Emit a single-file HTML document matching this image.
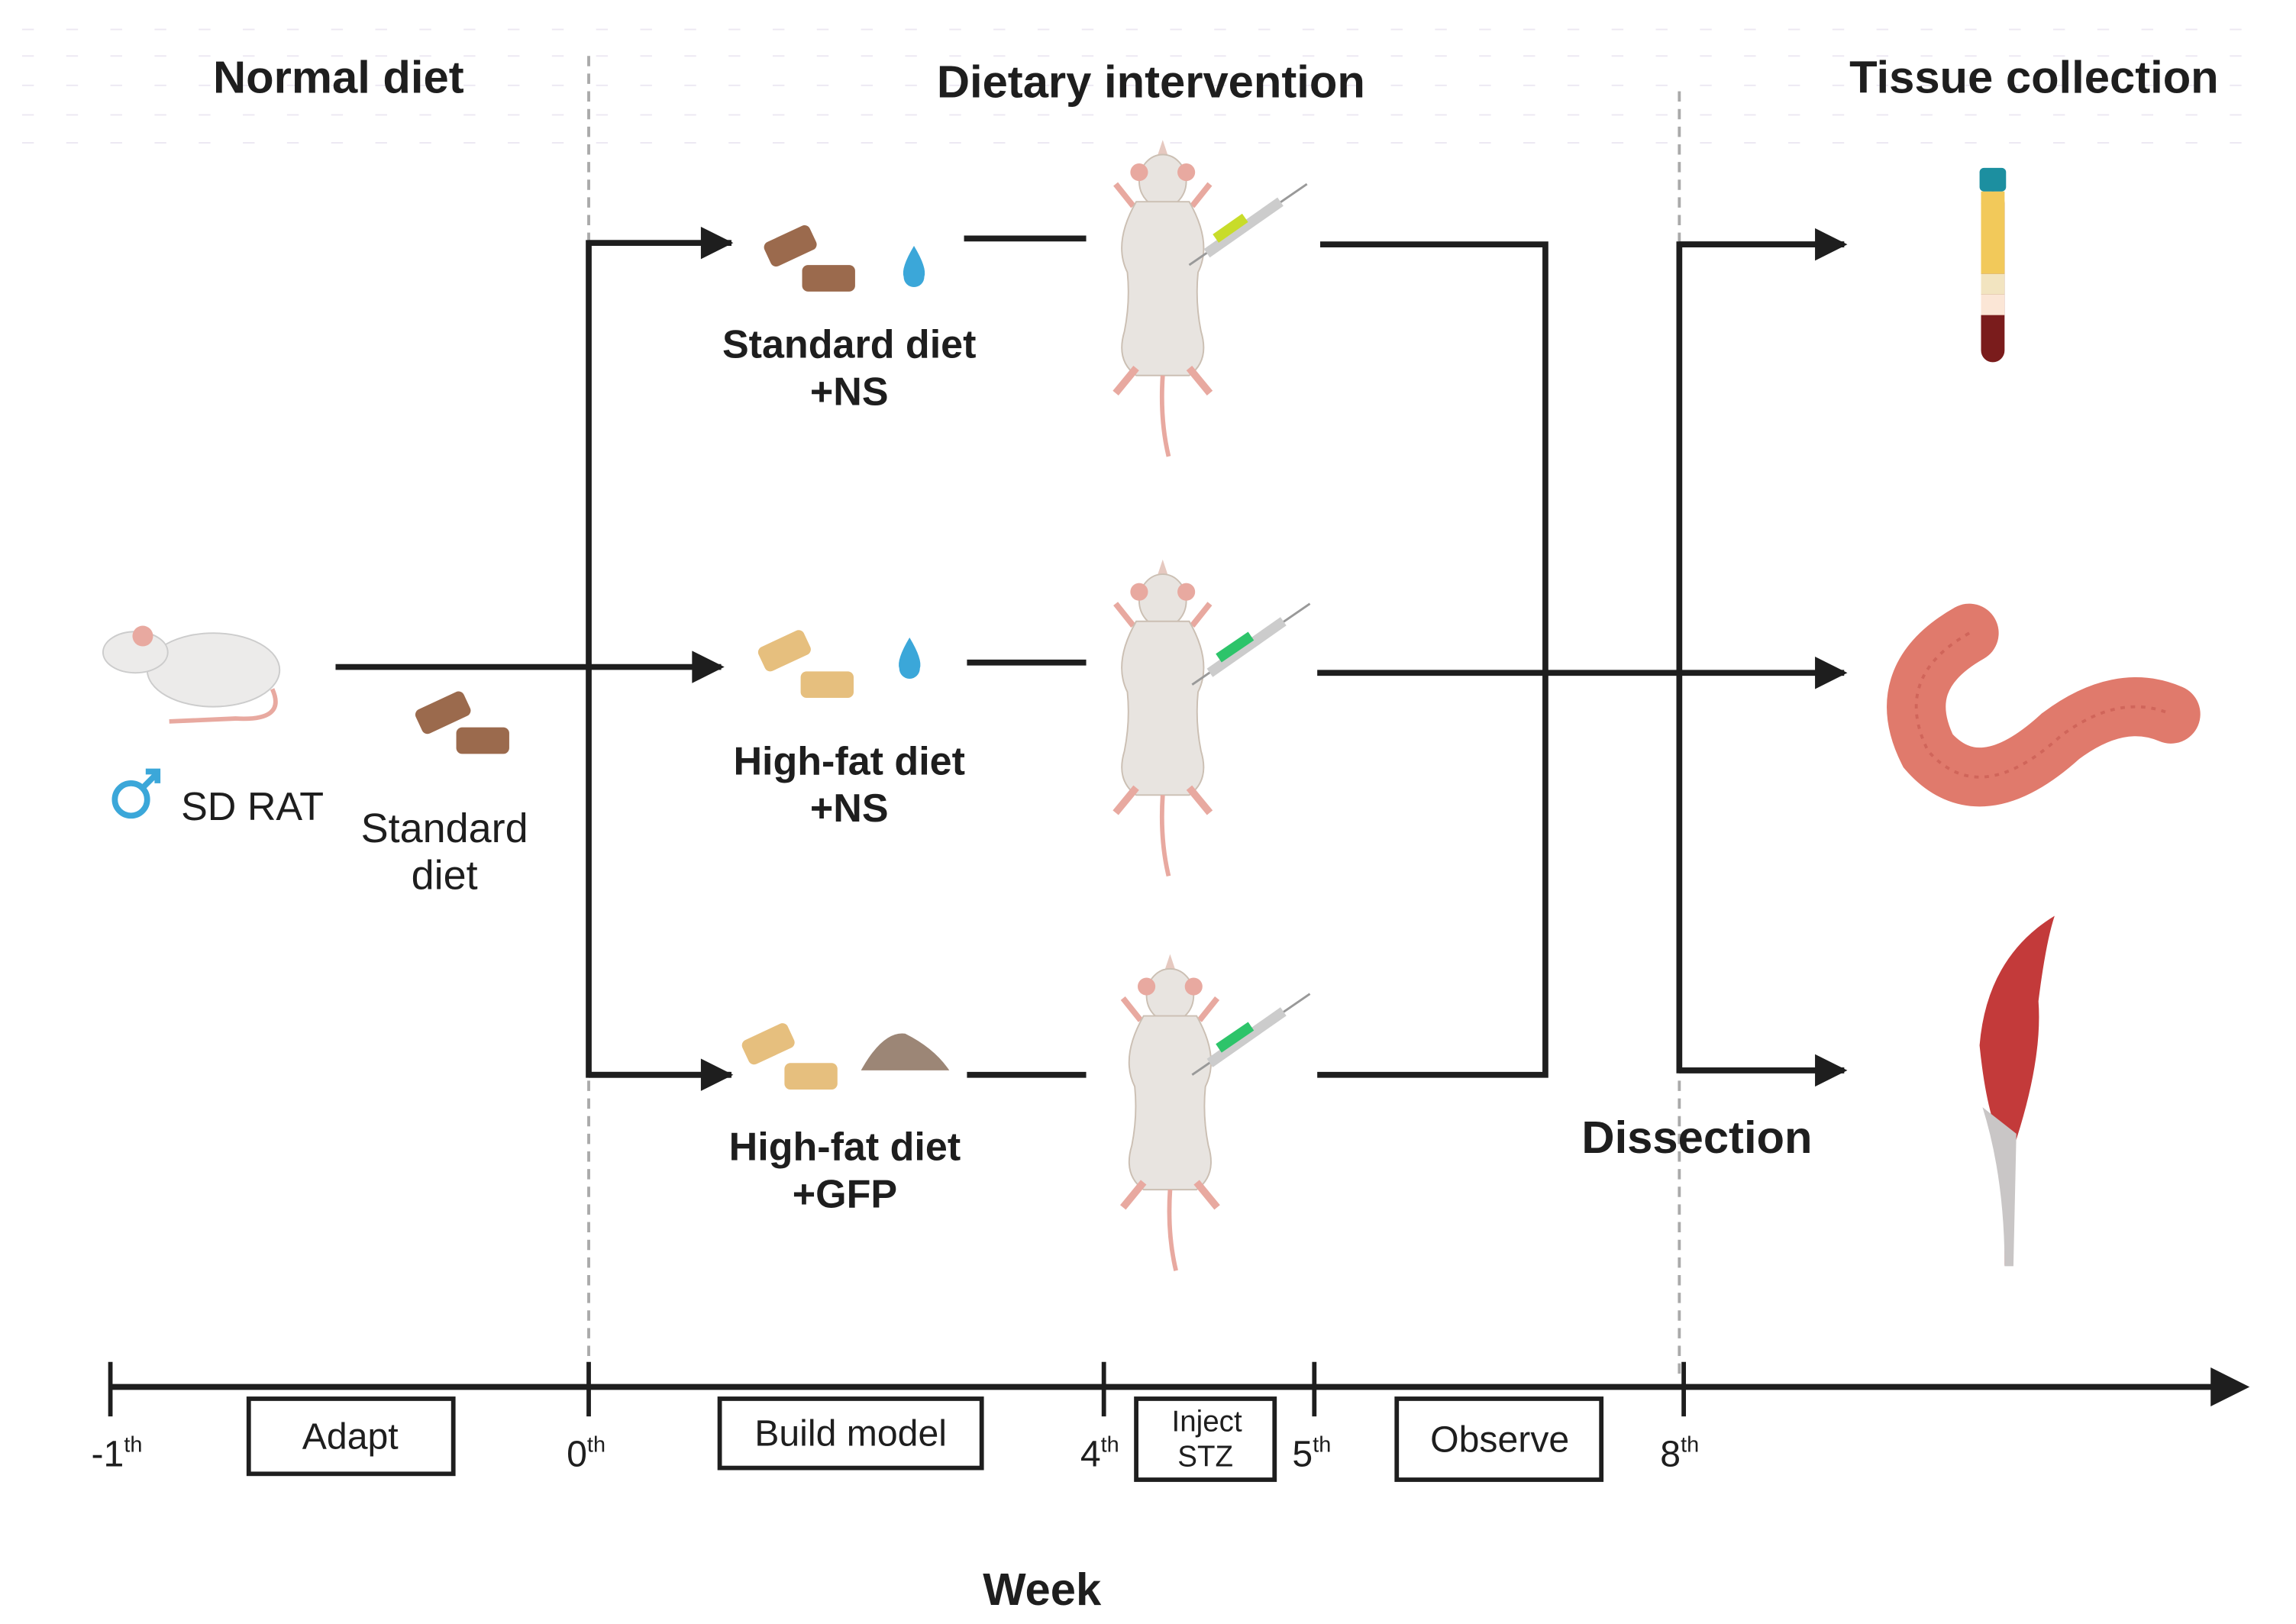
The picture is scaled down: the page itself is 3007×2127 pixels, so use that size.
<!DOCTYPE html>
<html><head><meta charset="utf-8"><style>
html,body{margin:0;padding:0;background:#fff;}
svg{display:block;}
text{font-family:"Liberation Sans",sans-serif;fill:#1e1e1e;}
.b{font-weight:bold;}
</style></head><body>
<svg width="3007" height="2127" viewBox="0 0 1560 1103" preserveAspectRatio="none" xmlns="http://www.w3.org/2000/svg">
<defs>
<marker id="ah" viewBox="0 0 10 10" refX="9" refY="5" markerWidth="6" markerHeight="5.5" markerUnits="strokeWidth" orient="auto"><path d="M0,0 L10,5 L0,10 z" fill="#1e1e1e"/></marker>
<g id="rat">
 <path d="M0,-100 L5,-85 L-5,-85 z" fill="#e6c9c0"/>
 <ellipse cx="0" cy="-72" rx="16" ry="18" fill="#e8e4e0" stroke="#cbbfb3"/>
 <circle cx="-16" cy="-78" r="6" fill="#e8a9a0"/><circle cx="16" cy="-78" r="6" fill="#e8a9a0"/>
 <path d="M-20,-55 L-32,-70 M20,-55 L32,-70" stroke="#e8a9a0" stroke-width="4"/>
 <path d="M-18,-58 Q-34,-30 -24,-10 Q-22,10 -26,30 Q-32,50 -18,60 L18,60 Q32,50 26,30 Q22,10 24,-10 Q34,-30 18,-58 Z" fill="#e8e4e0" stroke="#cbbfb3"/>
 <path d="M-18,55 L-32,72 M18,55 L32,72" stroke="#e8a9a0" stroke-width="5"/>
 <path d="M0,60 Q-2,90 4,115" stroke="#e8a9a0" stroke-width="3" fill="none"/>
</g>
<g id="syr">
 <line x1="0" y1="0" x2="80" y2="-55" stroke="#999" stroke-width="1.5"/>
 <line x1="12" y1="-8" x2="62" y2="-43" stroke="#ccc" stroke-width="7"/>
</g>
</defs>

<g stroke="#ece8f2" stroke-width="1" stroke-dasharray="8 22">
<line x1="15" y1="20" x2="1545" y2="20"/><line x1="15" y1="38" x2="1545" y2="38"/>
<line x1="15" y1="58" x2="1545" y2="58"/><line x1="15" y1="78" x2="1545" y2="78"/><line x1="15" y1="97" x2="1545" y2="97"/>
</g>

<text x="230" y="63" font-size="31" class="b" text-anchor="middle">Normal diet</text>
<text x="782" y="66" font-size="31" class="b" text-anchor="middle">Dietary intervention</text>
<text x="1382" y="63" font-size="31" class="b" text-anchor="middle">Tissue collection</text>

<g stroke="#aaa" stroke-width="2" stroke-dasharray="7 5">
<line x1="400" y1="38" x2="400" y2="935"/><line x1="1141" y1="62" x2="1141" y2="935"/>
</g>

<g>
 <ellipse cx="145" cy="455" rx="45" ry="25" fill="#ecebea" stroke="#ccc"/>
 <ellipse cx="92" cy="443" rx="22" ry="14" fill="#ecebea" stroke="#ccc"/>
 <circle cx="97" cy="432" r="7" fill="#e8a9a0"/>
 <path d="M185,468 Q195,490 160,488 L115,490" stroke="#e8a9a0" stroke-width="3" fill="none"/>
</g>
<circle cx="89" cy="543" r="11" fill="none" stroke="#3ba7d9" stroke-width="4"/>
<path d="M97,535 L107,525 M99,524 L107,524 L107,532" stroke="#3ba7d9" stroke-width="4" fill="none"/>
<text x="123" y="557" font-size="27">SD RAT</text>
<text x="302" y="572" font-size="28" text-anchor="middle">Standard</text>
<text x="302" y="604" font-size="28" text-anchor="middle">diet</text>
<g fill="#9b6a4d"><rect x="283" y="475" width="36" height="18" rx="4" transform="rotate(-25 301 484)"/><rect x="310" y="494" width="36" height="18" rx="4"/></g>

<g stroke="#1e1e1e" stroke-width="4" fill="none">
<line x1="228" y1="453" x2="490" y2="453" marker-end="url(#ah)"/>
<polyline points="497,165 400,165 400,730 497,730"/>
<line x1="400" y1="165" x2="496" y2="165" marker-end="url(#ah)"/>
<line x1="400" y1="730" x2="496" y2="730" marker-end="url(#ah)"/>
<line x1="655" y1="162" x2="738" y2="162"/>
<line x1="657" y1="450" x2="738" y2="450"/>
<line x1="657" y1="730" x2="738" y2="730"/>
<polyline points="897,166 1050,166 1050,730 895,730"/>
<line x1="895" y1="457" x2="1253" y2="457" marker-end="url(#ah)"/>
<polyline points="1253,166 1141,166 1141,727 1253,727"/>
<line x1="1141" y1="166" x2="1253" y2="166" marker-end="url(#ah)"/>
<line x1="1141" y1="727" x2="1253" y2="727" marker-end="url(#ah)"/>
</g>

<g fill="#9b6a4d"><rect x="520" y="158" width="34" height="18" rx="4" transform="rotate(-25 537 167)"/><rect x="545" y="180" width="36" height="18" rx="4"/></g>
<path d="M621,167 Q612,182 614,188 A7,7 0 0 0 628,188 Q630,182 621,167Z" fill="#3ba7d9"/>
<text x="577" y="243" font-size="27" class="b" text-anchor="middle">Standard diet</text>
<text x="577" y="275" font-size="27" class="b" text-anchor="middle">+NS</text>

<g fill="#e6bf7e"><rect x="516" y="433" width="34" height="18" rx="4" transform="rotate(-25 533 442)"/><rect x="544" y="456" width="36" height="18" rx="4"/></g>
<path d="M618,433 Q609,448 611,454 A7,7 0 0 0 625,454 Q627,448 618,433Z" fill="#3ba7d9"/>
<text x="577" y="526" font-size="27" class="b" text-anchor="middle">High-fat diet</text>
<text x="577" y="558" font-size="27" class="b" text-anchor="middle">+NS</text>

<g fill="#e6bf7e"><rect x="505" y="700" width="34" height="18" rx="4" transform="rotate(-25 522 709)"/><rect x="533" y="722" width="36" height="18" rx="4"/></g>
<path d="M585,727 Q600,700 615,702 Q635,712 645,727 Z" fill="#9c8676"/>
<text x="574" y="788" font-size="27" class="b" text-anchor="middle">High-fat diet</text>
<text x="574" y="820" font-size="27" class="b" text-anchor="middle">+GFP</text>

<use href="#rat" x="790" y="195"/>
<use href="#syr" x="808" y="180"/><line x1="826" y1="162" x2="846" y2="148" stroke="#c8dc2a" stroke-width="7"/>
<use href="#rat" x="790" y="480"/>
<use href="#syr" x="810" y="465"/><line x1="828" y1="447" x2="850" y2="432" stroke="#2dc46a" stroke-width="7"/>
<use href="#rat" x="795" y="748"/>
<use href="#syr" x="810" y="730"/><line x1="828" y1="712" x2="850" y2="697" stroke="#2dc46a" stroke-width="7"/>

<text x="1153" y="783" font-size="31" class="b" text-anchor="middle">Dissection</text>

<rect x="1346" y="130" width="16" height="116" rx="8" fill="#7a1c1c"/>
<rect x="1346" y="130" width="16" height="56" fill="#f2c95a"/>
<rect x="1346" y="186" width="16" height="14" fill="#f2e4c0"/>
<rect x="1346" y="200" width="16" height="14" fill="#fbe6d6"/>
<rect x="1345" y="114" width="18" height="16" rx="3" fill="#1c8fa0"/>
<path d="M1338,430 Q1285,460 1310,510 Q1345,550 1400,500 Q1440,470 1475,485" stroke="#e07a6c" stroke-width="40" fill="none" stroke-linecap="round"/>
<path d="M1338,430 Q1285,460 1310,510 Q1345,550 1400,500 Q1440,470 1475,485" stroke="#d0655a" stroke-width="2" fill="none" stroke-dasharray="3 4"/>
<path d="M1396,622 Q1350,650 1345,710 Q1350,760 1362,780 L1362,860 L1368,780 Q1388,720 1385,680 Q1390,640 1396,622Z" fill="#c33a3a"/>
<path d="M1347,752 Q1362,800 1362,860 L1368,860 L1370,770 Z" fill="#c9c6c6"/>

<g stroke="#1e1e1e" stroke-width="4" fill="none">
<line x1="75" y1="942" x2="1512" y2="942"/>
<path d="M1504,932 L1524,942 L1504,952Z" fill="#1e1e1e"/>
<line x1="75" y1="925" x2="75" y2="962" stroke-width="3"/>
<line x1="400" y1="925" x2="400" y2="962" stroke-width="3"/>
<line x1="750" y1="925" x2="750" y2="962" stroke-width="3"/>
<line x1="893" y1="925" x2="893" y2="962" stroke-width="3"/>
<line x1="1144" y1="925" x2="1144" y2="962" stroke-width="3"/>
<rect x="169" y="950" width="139" height="51" stroke-width="3"/>
<rect x="489" y="950" width="178" height="47" stroke-width="3"/>
<rect x="772" y="950" width="94" height="55" stroke-width="3"/>
<rect x="949" y="950" width="139" height="55" stroke-width="3"/>
</g>
<g font-size="25">
<text x="62" y="996">-1<tspan font-size="15" dy="-10">th</tspan></text>
<text x="385" y="996">0<tspan font-size="15" dy="-10">th</tspan></text>
<text x="734" y="996">4<tspan font-size="15" dy="-10">th</tspan></text>
<text x="878" y="996">5<tspan font-size="15" dy="-10">th</tspan></text>
<text x="1128" y="996">8<tspan font-size="15" dy="-10">th</tspan></text>
<text x="238" y="984" text-anchor="middle">Adapt</text>
<text x="578" y="982" text-anchor="middle">Build model</text>
<text x="1019" y="986" text-anchor="middle">Observe</text>
</g>
<text x="820" y="972" font-size="20" text-anchor="middle">Inject</text>
<text x="819" y="996" font-size="20" text-anchor="middle">STZ</text>
<text x="708" y="1090" font-size="31" class="b" text-anchor="middle">Week</text>
</svg>
</body></html>
